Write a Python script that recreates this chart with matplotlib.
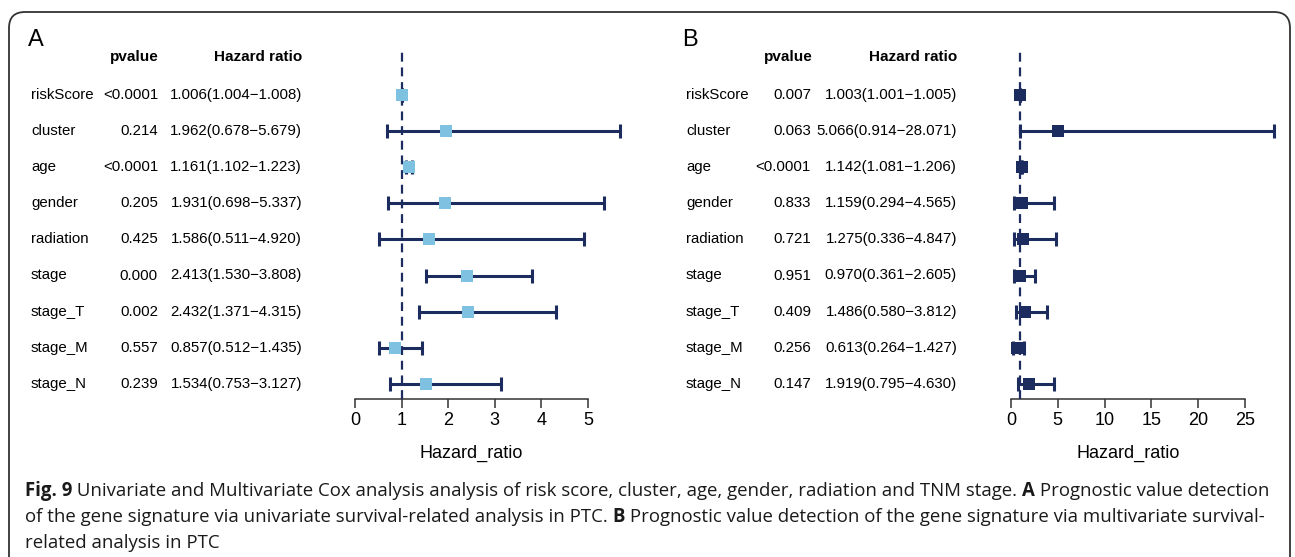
import matplotlib
matplotlib.use('Agg')
import matplotlib.pyplot as plt
from matplotlib.patches import PathPatch
from matplotlib.path import Path
from matplotlib.transforms import blended_transform_factory

# Dados das duas análises de Cox
variaveis = ['riskScore', 'cluster', 'age', 'gender', 'radiation',
             'stage', 'stage_T', 'stage_M', 'stage_N']

uni_p = ['<0.0001', '0.214', '<0.0001', '0.205', '0.425', '0.000', '0.002', '0.557', '0.239']
uni_hr = [1.006, 1.962, 1.161, 1.931, 1.586, 2.413, 2.432, 0.857, 1.534]
uni_lo = [1.004, 0.678, 1.102, 0.698, 0.511, 1.530, 1.371, 0.512, 0.753]
uni_hi = [1.008, 5.679, 1.223, 5.337, 4.920, 3.808, 4.315, 1.435, 3.127]
uni_ticks = [0, 1, 2, 3, 4, 5]

multi_p = ['0.007', '0.063', '<0.0001', '0.833', '0.721', '0.951', '0.409', '0.256', '0.147']
multi_hr = [1.003, 5.066, 1.142, 1.159, 1.275, 0.970, 1.486, 0.613, 1.919]
multi_lo = [1.001, 0.914, 1.081, 0.294, 0.336, 0.361, 0.580, 0.264, 0.795]
multi_hi = [1.005, 28.071, 1.206, 4.565, 4.847, 2.605, 3.812, 1.427, 4.630]
multi_ticks = [0, 5, 10, 15, 20, 25]

legenda = [
    [('Fig. 9', 'bold'),
     (' Univariate and Multivariate Cox analysis analysis of risk score, cluster, age, gender, radiation and TNM stage. ', 'normal'),
     ('A', 'bold'), (' Prognostic value detection', 'normal')],
    [('of the gene signature via univariate survival-related analysis in PTC. ', 'normal'),
     ('B', 'bold'),
     (' Prognostic value detection of the gene signature via multivariate survival-', 'normal')],
    [('related analysis in PTC', 'normal')],
]

W, H = 1295, 557
AZUL_ESCURO = '#1d2c5e'
AZUL_CLARO = '#7fc1e0'
FS_LINHA = 10.8

plt.rcParams['font.family'] = ['Liberation Sans', 'DejaVu Sans']

fig = plt.figure(figsize=(W / 100, H / 100), dpi=100)

# eixo "tela" em pixels para textos e moldura
tela = fig.add_axes([0, 0, 1, 1])
tela.set_xlim(0, W)
tela.set_ylim(H, 0)
tela.axis('off')

# moldura arredondada (aberta embaixo)
x0, x1, ytop, r = 9, 1290, 12, 16
verts = [(x0, H), (x0, ytop + r), (x0, ytop), (x0 + r, ytop),
         (x1 - r, ytop), (x1, ytop), (x1, ytop + r), (x1, H)]
codes = [Path.MOVETO, Path.LINETO, Path.CURVE3, Path.CURVE3,
         Path.LINETO, Path.CURVE3, Path.CURVE3, Path.LINETO]
tela.add_patch(PathPatch(Path(verts, codes), facecolor='none',
                         edgecolor='#333333', lw=1.3))

# posições verticais das linhas (px)
y_row0, dy = 95, 36.1
y_top, y_base = 52, 399


def painel(letra, px0, ppu, xl, xr, pvals, hr, lo, hi, ticks, cor_marca,
           x_letra, x_lab, x_p, x_hr, x_pv_head):
    left_px, right_px = xl, xr
    ax = fig.add_axes([left_px / W, 1 - y_base / H,
                       (right_px - left_px) / W, (y_base - y_top) / H])
    ax.set_xlim((left_px - px0) / ppu, (right_px - px0) / ppu)
    ax.set_ylim((y_base - y_row0) / dy, (y_top - y_row0) / dy)
    ax.patch.set_alpha(0)

    ys = list(range(len(hr)))
    err = [[h - l for h, l in zip(hr, lo)], [u - h for h, u in zip(hr, hi)]]
    ax.errorbar(hr, ys, xerr=err, fmt='none', ecolor=AZUL_ESCURO,
                elinewidth=2.2, capsize=4.7, capthick=2.2, zorder=2)
    ax.axvline(1, color=AZUL_ESCURO, lw=1.6, linestyle=(0, (4, 2.6)), zorder=3)
    ax.plot(hr, ys, 's', color=cor_marca, markersize=8.5, zorder=4,
            markeredgewidth=0)

    for s in ['top', 'right', 'left']:
        ax.spines[s].set_visible(False)
    ax.spines['bottom'].set_bounds(ticks[0], ticks[-1])
    ax.spines['bottom'].set_color('#333333')
    ax.spines['bottom'].set_linewidth(1.1)
    ax.set_xticks(ticks)
    ax.set_xticklabels([str(t) for t in ticks])
    ax.tick_params(axis='x', length=6.5, width=1.1, color='#333333',
                   labelsize=13, pad=3)
    ax.set_yticks([])
    ax.set_xlabel('Hazard_ratio', fontsize=13, labelpad=8)
    ax.xaxis.set_label_coords(((ticks[0] + ticks[-1]) / 2 - ax.get_xlim()[0])
                              / (ax.get_xlim()[1] - ax.get_xlim()[0]), -0.133)

    trans = blended_transform_factory(tela.transData, ax.transData)
    for i, nome in enumerate(variaveis):
        tela.text(x_lab, i, nome, transform=trans, fontsize=FS_LINHA,
                  ha='left', va='center')
        tela.text(x_p, i, pvals[i], transform=trans, fontsize=FS_LINHA,
                  ha='right', va='center')
        tela.text(x_hr, i, f'{hr[i]:.3f}({lo[i]:.3f}\u2212{hi[i]:.3f})',
                  transform=trans, fontsize=FS_LINHA, ha='right', va='center')

    tela.text(x_pv_head, 57, 'pvalue', fontsize=11, fontweight='bold',
              ha='center', va='center')
    tela.text(x_hr, 57, 'Hazard ratio', fontsize=11, fontweight='bold',
              ha='right', va='center')
    tela.text(x_letra, 40, letra, fontsize=17, ha='left', va='center')
    return ax


painel('A', 355, 46.6, 330, 640, uni_p, uni_hr, uni_lo, uni_hi, uni_ticks,
       AZUL_CLARO, 28, 31, 158, 302, 134)
painel('B', 1011, 9.36, 990, 1285, multi_p, multi_hr, multi_lo, multi_hi,
       multi_ticks, AZUL_ESCURO, 682, 686, 811, 957, 788)

# legenda da figura com partes em negrito
FS_LEG = 13.4
renderer = fig.canvas.get_renderer()
ref = tela.text(0, 0, '|', fontsize=FS_LEG, family='Open Sans')
w_ref = ref.get_window_extent(renderer).width
ref.remove()
baselines = [496, 522, 548]
for linha, yb in zip(legenda, baselines):
    x = 25
    for trecho, peso in linha:
        t = tela.text(x, yb, trecho, fontsize=FS_LEG, family='Open Sans',
                      fontweight=peso, ha='left', va='baseline', color='#1a1a1a')
        m = tela.text(0, 0, trecho + '|', fontsize=FS_LEG, family='Open Sans',
                      fontweight=peso)
        x += m.get_window_extent(renderer).width - w_ref
        m.remove()

fig.savefig('out.png', dpi=100)
